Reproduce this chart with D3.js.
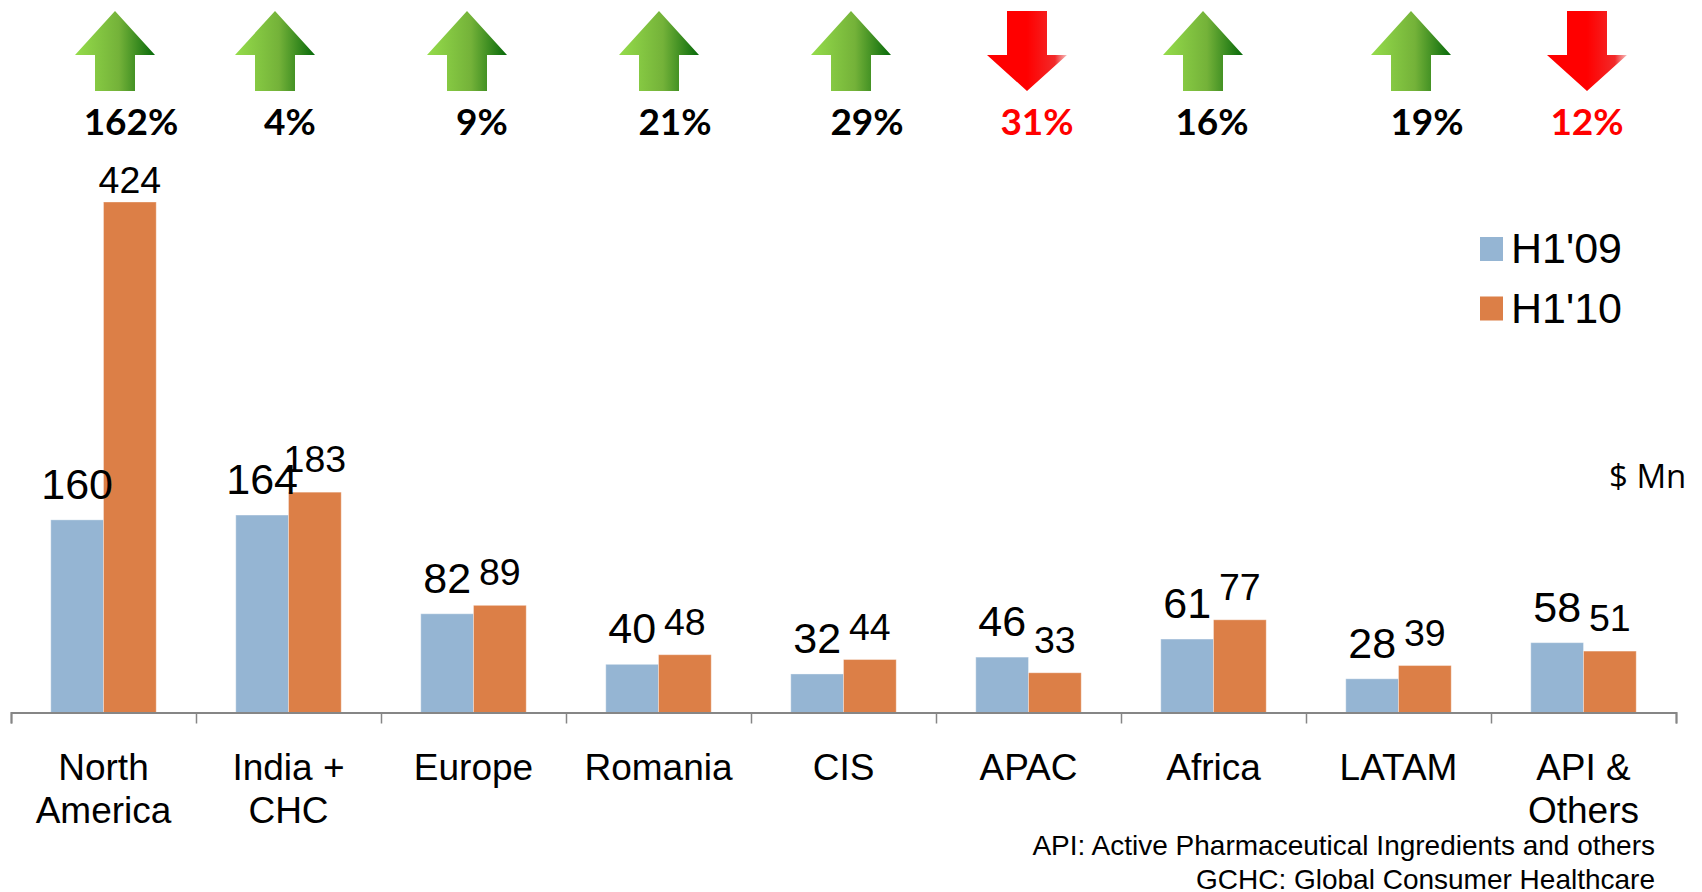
<!DOCTYPE html>
<html>
<head>
<meta charset="utf-8">
<script src="https://cdn.jsdelivr.net/npm/d3@7"></script>
<style>
  html, body { margin: 0; background: #fff; overflow: hidden; }
  svg { display: block; }
  text { font-family: "Liberation Sans", Arial, sans-serif; fill: #000; }
</style>
</head>
<body>
<svg id="chart" width="1702" height="892"></svg>
<script>
/******** Data ********/
var categories = ["North\nAmerica", "India +\nCHC", "Europe", "Romania", "CIS", "APAC", "Africa", "LATAM", "API &\nOthers"];
var seriesNames = ["H1'09", "H1'10"];
var h109 = [160, 164, 82, 40, 32, 46, 61, 28, 58];
var h110 = [424, 183, 89, 48, 44, 33, 77, 39, 51];
var changes = [162, 4, 9, 21, 29, -31, 16, 19, -12];
var footnotes = ["API: Active Pharmaceutical Ingredients and others", "GCHC: Global Consumer Healthcare"];

/******** Layout ********/
var svg = d3.select("#chart");
var axisY = 712.5;
var colors = ["#95b5d3", "#dc7f47"];

// arrows and percent labels sit off the category centers in the original slide
var arrowCenters = [115, 275, 467, 659, 851, 1027, 1203, 1411, 1587];
var pctCenters = [131, 290, 482, 675, 867, 1037, 1212, 1427, 1587];

/******** Scales ********/
var x0 = d3.scaleBand()
  .domain(categories)
  .range([11, 1676])
  .paddingInner(0.43)
  .paddingOuter(0.215);

var x1 = d3.scaleBand()
  .domain([0, 1])
  .range([0, x0.bandwidth()]);

var y = d3.scaleLinear()
  .domain([0, 424])
  .range([axisY, 202]);

/******** Gradients ********/
var defs = svg.append("defs");
var upGrad = defs.append("linearGradient").attr("id", "up-grad");
upGrad.append("stop").attr("offset", "0%").attr("stop-color", "#95dc4b");
upGrad.append("stop").attr("offset", "55%").attr("stop-color", "#74b239");
upGrad.append("stop").attr("offset", "100%").attr("stop-color", "#07690a");
var downGrad = defs.append("linearGradient").attr("id", "down-grad");
downGrad.append("stop").attr("offset", "0%").attr("stop-color", "#ff0000");
downGrad.append("stop").attr("offset", "50%").attr("stop-color", "#ff0000");
downGrad.append("stop").attr("offset", "85%").attr("stop-color", "#f22a2a");
downGrad.append("stop").attr("offset", "100%").attr("stop-color", "#f6c0c0");

/******** Bars ********/
var groups = svg.selectAll("g.cat")
  .data(categories)
  .enter().append("g")
  .attr("class", "cat")
  .attr("transform", d => "translate(" + x0(d) + ",0)");

[h109, h110].forEach(function (values, s) {
  groups.append("rect")
    .attr("x", x1(s))
    .attr("y", (d, i) => y(values[i]))
    .attr("width", x1.bandwidth())
    .attr("height", (d, i) => axisY - y(values[i]))
    .attr("fill", colors[s])
    .attr("stroke", "#fff")
    .attr("stroke-opacity", 0.35)
    .attr("stroke-width", 1);
});

// value labels go on top of every bar, the first series is set a bit larger
var labelGroups = svg.selectAll("g.labels")
  .data(categories)
  .enter().append("g")
  .attr("class", "labels")
  .attr("transform", d => "translate(" + x0(d) + ",0)");

[h109, h110].forEach(function (values, s) {
  labelGroups.append("text")
    .attr("x", x1(s) + x1.bandwidth() / 2)
    .attr("y", (d, i) => y(values[i]) - (values[i] === 424 ? 9 : (s === 0 ? 21 : 20)))
    .attr("text-anchor", "middle")
    .attr("font-size", s === 0 ? 43 : 37.5)
    .text((d, i) => values[i]);
});

/******** Axis ********/
// ticks go on the band edges, so a plain linear scale over the band index
var edges = d3.scaleLinear().domain([0, categories.length]).range([11, 1676]);
var xAxis = d3.axisBottom(edges)
  .tickValues(d3.range(categories.length + 1))
  .tickSize(11)
  .tickSizeOuter(11)
  .tickFormat("");

var axisGroup = svg.append("g")
  .attr("transform", "translate(0," + axisY + ")")
  .call(xAxis);
axisGroup.select(".domain").attr("stroke", "#868686").attr("stroke-width", 2);
axisGroup.selectAll(".tick line").attr("stroke", "#868686").attr("stroke-width", 1.5);

categories.forEach(function (c) {
  c.split("\n").forEach(function (line, j) {
    svg.append("text")
      .attr("x", x0(c) + x0.bandwidth() / 2)
      .attr("y", 780 + j * 43)
      .attr("text-anchor", "middle")
      .attr("font-size", 37)
      .text(line);
  });
});

/******** Arrows ********/
var arrowUp = "M0,0 L40,44 L20,44 L20,80 L-20,80 L-20,44 L-40,44 Z";
var arrowDown = "M-20,0 L20,0 L20,44 L40,44 L0,80 L-40,44 L-20,44 Z";

changes.forEach(function (v, i) {
  svg.append("path")
    .attr("transform", "translate(" + arrowCenters[i] + ",11)")
    .attr("d", v > 0 ? arrowUp : arrowDown)
    .attr("fill", v > 0 ? "url(#up-grad)" : "url(#down-grad)");

  svg.append("text")
    .attr("x", pctCenters[i])
    .attr("y", 134.5)
    .attr("text-anchor", "middle")
    .attr("font-size", 37)
    .style("font-family", "Lato, sans-serif")
    .style("font-weight", "bold")
    .style("fill", v > 0 ? "#000" : "#ff0000")
    .text(Math.abs(v) + "%");
});

/******** Legend ********/
seriesNames.forEach(function (name, i) {
  svg.append("rect")
    .attr("x", 1480)
    .attr("y", 237 + i * 59.5)
    .attr("width", 23)
    .attr("height", 24)
    .attr("fill", colors[i]);
  svg.append("text")
    .attr("x", 1511)
    .attr("y", 263 + i * 59.5)
    .attr("font-size", 43)
    .text(name);
});

/******** Notes ********/
svg.append("text")
  .attr("x", 1609)
  .attr("y", 488)
  .attr("font-size", 33)
  .style("font-family", "'Open Sans', sans-serif")
  .text("$ Mn");

footnotes.forEach(function (note, i) {
  svg.append("text")
    .attr("x", 1655)
    .attr("y", 855 + i * 33.5)
    .attr("text-anchor", "end")
    .attr("font-size", 28)
    .text(note);
});
</script>
</body>
</html>
